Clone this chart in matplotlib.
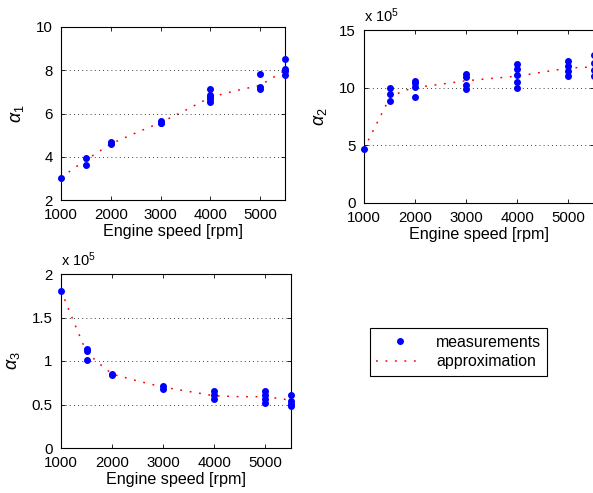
import numpy as np
import matplotlib.pyplot as plt

plt.rcParams['font.family'] = ['Liberation Sans', 'DejaVu Sans']
plt.rcParams['font.size'] = 10.8
plt.rcParams['mathtext.fontset'] = 'custom'
plt.rcParams['mathtext.rm'] = 'Liberation Sans'
plt.rcParams['mathtext.it'] = 'Liberation Sans:italic'

# measurements (engine speed, value)
a1_rpm = [1000, 1500, 1500, 2000, 2000, 2000, 3000, 3000, 3000,
          4000, 4000, 4000, 4000, 4000, 5000, 5000, 5000, 5500, 5500, 5500, 5500]
a1_val = [3.03, 3.95, 3.62, 4.69, 4.62, 4.58, 5.65, 5.58, 5.54,
          7.12, 6.85, 6.77, 6.66, 6.54, 7.82, 7.23, 7.12, 8.54, 8.08, 7.95, 7.77]

a2_rpm = [1000, 1500, 1500, 1500, 2000, 2000, 2000, 2000, 3000, 3000, 3000, 3000,
          4000, 4000, 4000, 4000, 4000, 5000, 5000, 5000, 5000, 5500, 5500, 5500, 5500]
a2_val = [4.7, 10.0, 9.43, 8.85, 10.6, 10.4, 10.05, 9.23, 11.16, 10.9, 10.24, 9.9,
          12.03, 11.6, 11.1, 10.5, 10.0, 12.35, 11.9, 11.45, 11.05, 12.8, 12.1, 11.5, 11.0]

a3_rpm = [1000, 1500, 1500, 1500, 2000, 2000, 3000, 3000,
          4000, 4000, 4000, 5000, 5000, 5000, 5000, 5500, 5500, 5500, 5500]
a3_val = [1.81, 1.14, 1.11, 1.015, 0.854, 0.835, 0.71, 0.68,
          0.66, 0.61, 0.567, 0.65, 0.61, 0.563, 0.517, 0.61, 0.544, 0.51, 0.48]

# approximation curves
ap_rpm = [1000, 1250, 1500, 1750, 2000, 2500, 3000, 3500, 4000, 4500, 5000, 5500]
ap1 = [3.03, 3.45, 3.85, 4.22, 4.6, 5.1, 5.58, 6.15, 6.75, 7.05, 7.3, 8.0]
ap2 = [4.7, 6.9, 9.1, 9.7, 10.0, 10.3, 10.6, 10.8, 11.0, 11.35, 11.7, 11.8]
ap3 = [1.81, 1.45, 1.1, 0.97, 0.85, 0.77, 0.7, 0.65, 0.6, 0.59, 0.59, 0.55]

W, H = 593, 493
fig = plt.figure(figsize=(W / 100, H / 100), dpi=100)


def px_axes(left, top, right, bottom):
    return fig.add_axes([left / W, 1 - bottom / H, (right - left) / W, (bottom - top) / H])


def style(ax, ylim, yticks, ylabel, mult=False):
    ax.set_xlim(1000, 5500)
    ax.set_xticks([1000, 2000, 3000, 4000, 5000])
    ax.set_ylim(*ylim)
    ax.set_yticks(yticks)
    ax.tick_params(direction='in', top=True, right=True, length=3, width=0.6)
    ax.tick_params(axis='x', pad=6)
    ax.tick_params(axis='y', pad=6)
    for s in ax.spines.values():
        s.set_linewidth(0.8)
    ax.grid(axis='y', linestyle=(0, (1, 4)), color='black', linewidth=0.6)
    ax.set_xlabel('Engine speed [rpm]', fontsize=11.6, labelpad=1)
    ax.set_ylabel(ylabel, fontsize=13, labelpad=7)
    if mult:
        ax.text(0.0, 1.03, r'x 10$^5$', transform=ax.transAxes, fontsize=10.5, ha='left', va='bottom')


dot_style = dict(linestyle='none', marker='o', markersize=4, color='blue', zorder=3, clip_on=False)
line_style = dict(color='red', linestyle=(0, (1.2, 5)), linewidth=1.1, zorder=2)

ax1 = px_axes(61, 27, 285, 200)
ax1.plot(a1_rpm, a1_val, **dot_style)
ax1.plot(ap_rpm, ap1, **line_style)
style(ax1, (2, 10), [2, 4, 6, 8, 10], r'$\alpha_1$')

ax2 = px_axes(364, 30, 594, 203)
ax2.plot(a2_rpm, a2_val, **dot_style)
ax2.plot(ap_rpm, ap2, **line_style)
style(ax2, (0, 15), [0, 5, 10, 15], r'$\alpha_2$', mult=True)

ax3 = px_axes(61, 274, 291, 448)
m, = ax3.plot(a3_rpm, a3_val, **dot_style)
a, = ax3.plot(ap_rpm, ap3, **line_style)
style(ax3, (0, 2), [0, 0.5, 1, 1.5, 2], r'$\alpha_3$', mult=True)
ax3.set_yticklabels(['0', '0.5', '1', '1.5', '2'])

leg = fig.legend([m, a], ['measurements', 'approximation'], loc='center',
                 bbox_to_anchor=(458.5 / W, 1 - 352 / H), fancybox=False,
                 edgecolor='black', framealpha=1, handlelength=3.0, borderpad=0.4,
                 handletextpad=0.8, labelspacing=0.3, fontsize=11.4)
leg.get_frame().set_linewidth(0.8)

fig.savefig('out.png', dpi=100)
